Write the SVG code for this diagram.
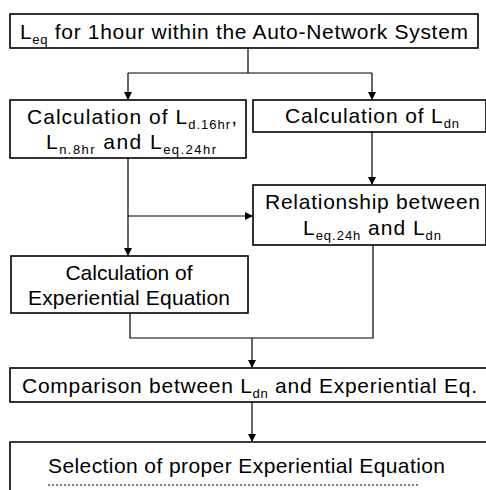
<svg xmlns="http://www.w3.org/2000/svg" width="486" height="490" viewBox="0 0 486 490">
<style>
.box{fill:#fff;stroke:#000;stroke-width:1.6}
.ln{fill:none;stroke:#000;stroke-width:1.2}
text{font-family:"Liberation Sans",Arial,sans-serif;font-size:21px;fill:#000}
.s{font-size:13px}
</style>
<defs>
<marker id="ah" markerWidth="8" markerHeight="8" refX="7" refY="4" orient="auto" markerUnits="userSpaceOnUse">
<path d="M0,0 L8,4 L0,8 Z" fill="#000"/>
</marker>
</defs>
<rect width="486" height="490" fill="#fff"/>
<g id="connectors">
<path class="ln" d="M248,48 V73 M128,73 H372" />
<path class="ln" d="M128,73 V99" marker-end="url(#ah)"/>
<path class="ln" d="M372,73 V99" marker-end="url(#ah)"/>
<path class="ln" d="M372,132 V184" marker-end="url(#ah)"/>
<path class="ln" d="M128,158 V255" marker-end="url(#ah)"/>
<path class="ln" d="M128,216 H252" marker-end="url(#ah)"/>
<path class="ln" d="M130,313 V338 H373 V245"/>
<path class="ln" d="M252,338 V367" marker-end="url(#ah)"/>
<path class="ln" d="M252,402 V441" marker-end="url(#ah)"/>
</g>
<g id="n1">
<rect class="box" x="10" y="14" width="468" height="34"/>
<text x="20" y="39" textLength="448" lengthAdjust="spacing">L<tspan class="s" dy="5">eq</tspan><tspan dy="-5"> for 1hour within the Auto-Network System</tspan></text>
</g>
<g id="n2">
<rect class="box" x="10" y="100" width="236" height="58"/>
<text x="27" y="124" textLength="210" lengthAdjust="spacing">Calculation of L<tspan class="s" dy="5">d.16hr</tspan><tspan dy="-5">,</tspan></text>
<text x="46" y="149" textLength="170" lengthAdjust="spacing">L<tspan class="s" dy="5">n.8hr</tspan><tspan dy="-5"> and L</tspan><tspan class="s" dy="5">eq.24hr</tspan></text>
</g>
<g id="n3">
<rect class="box" x="253" y="100" width="233" height="32"/>
<text x="285" y="123" textLength="174" lengthAdjust="spacing">Calculation of L<tspan class="s" dy="5">dn</tspan></text>
</g>
<g id="n4">
<rect class="box" x="253" y="185" width="233" height="60"/>
<text x="265" y="209" textLength="215" lengthAdjust="spacing">Relationship between</text>
<text x="303" y="235" textLength="138" lengthAdjust="spacing">L<tspan class="s" dy="5">eq.24h</tspan><tspan dy="-5"> and L</tspan><tspan class="s" dy="5">dn</tspan></text>
</g>
<g id="n5">
<rect class="box" x="11" y="256" width="237" height="57"/>
<text x="129" y="280" text-anchor="middle">Calculation of</text>
<text x="28" y="305" textLength="202" lengthAdjust="spacing">Experiential Equation</text>
</g>
<g id="n6">
<rect class="box" x="10" y="368" width="478" height="34"/>
<text x="22" y="393" textLength="455" lengthAdjust="spacing">Comparison between L<tspan class="s" dy="5">dn</tspan><tspan dy="-5"> and Experiential Eq.</tspan></text>
</g>
<g id="n7">
<path class="box" d="M488,442 H10 V490"/>
<text x="48" y="473" textLength="397" lengthAdjust="spacing">Selection of proper Experiential Equation</text>
<path class="ln" d="M48,485 H420" stroke-dasharray="2,2"/>
</g>
</svg>
